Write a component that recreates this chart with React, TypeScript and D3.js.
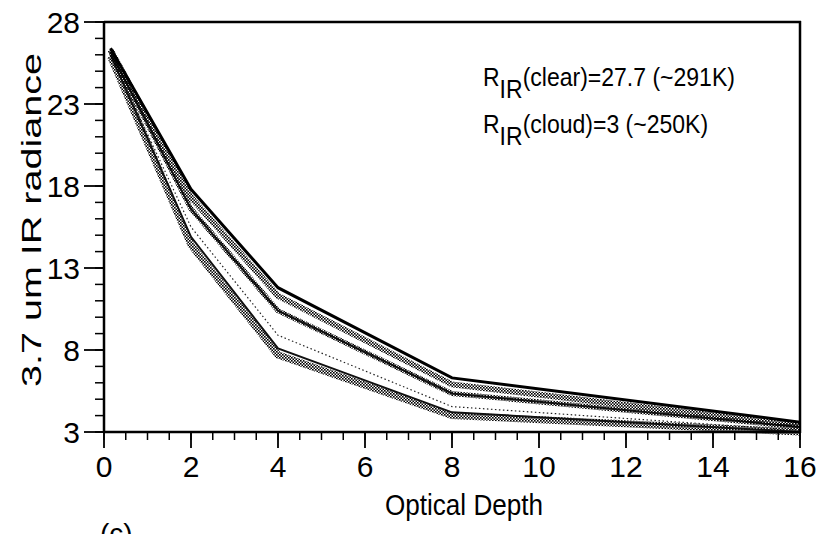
import React from "react";
import * as d3 from "d3";

const depths = [0.15, 2, 4, 8, 16];
const seriesA = [26.4, 17.8, 11.8, 6.3, 3.6];
const seriesB = [26.3, 17.3, 11.3, 5.9, 3.4];
const seriesC = [26.2, 16.6, 10.4, 5.35, 3.3];
const seriesD = [26.0, 15.5, 8.9, 4.55, 3.1];
const seriesE = [26.0, 14.9, 8.1, 4.2, 3.0];
const seriesF = [25.9, 14.4, 7.7, 4.0, 3.0];
const yMajorTicks = [3, 8, 13, 18, 23, 28];
const xMajorTicks = [0, 2, 4, 6, 8, 10, 12, 14, 16];

const W = 823;
const H = 534;
const FONT = "'Liberation Sans', Arial, sans-serif";

export default function App() {
  const x = d3.scaleLinear().domain([0, 16]).range([104, 800]);
  const y = d3.scaleLinear().domain([3, 28]).range([432, 22]);
  const line = d3
    .line<number>()
    .x((_, i) => x(depths[i]))
    .y((d) => y(d));

  const yMinor = d3.range(3, 28.001, 1);
  const xMinor = d3.range(0, 16.001, 0.5);

  return (
    <svg
      width={W}
      height={H}
      style={{ position: "absolute", left: 0, top: 0, background: "#fff" }}
      fontFamily={FONT}
    >
      <defs>
        <pattern id="hatch" patternUnits="userSpaceOnUse" width="3" height="3">
          <rect x="0" y="0" width="1.6" height="1.6" fill="#000" />
          <rect x="1.5" y="1.5" width="1.5" height="1.5" fill="#000" />
        </pattern>
      </defs>
      <rect x={0} y={0} width={W} height={H} fill="#fff" />

      {/* series */}
      <path d={line(seriesF) || ""} fill="none" stroke="url(#hatch)" strokeWidth={7} />
      <path d={line(seriesE) || ""} fill="none" stroke="#111" strokeWidth={2} />
      <path d={line(seriesD) || ""} fill="none" stroke="#222" strokeWidth={1.2} strokeDasharray="1.5,2.5" />
      <path d={line(seriesC) || ""} fill="none" stroke="url(#hatch)" strokeWidth={5} />
      <path d={line(seriesC) || ""} fill="none" stroke="#111" strokeWidth={2} />
      <path d={line(seriesB) || ""} fill="none" stroke="url(#hatch)" strokeWidth={6} />
      <path d={line(seriesA) || ""} fill="none" stroke="#000" strokeWidth={3} />

      {/* frame */}
      <line x1={104} x2={801} y1={22} y2={22} stroke="#000" strokeWidth={2.5} />
      <line x1={800} x2={800} y1={21} y2={433} stroke="#000" strokeWidth={2.5} />
      <line x1={104} x2={104} y1={21} y2={433} stroke="#000" strokeWidth={2.5} />
      <line x1={104} x2={801} y1={432} y2={432} stroke="#000" strokeWidth={2.5} />

      {/* y ticks */}
      {yMinor.map((v) => (
        <line key={"ym" + v} x1={95} x2={105} y1={y(v)} y2={y(v)} stroke="#000" strokeWidth={1.5} />
      ))}
      {yMajorTicks.map((v) => (
        <g key={"yM" + v}>
          <line x1={84} x2={105} y1={y(v)} y2={y(v)} stroke="#000" strokeWidth={1.8} />
          <text x={80} y={y(v) + 10.5} fontSize={30} textAnchor="end" fill="#000">
            {v}
          </text>
        </g>
      ))}

      {/* x ticks */}
      {xMinor.map((v) => (
        <line key={"xm" + v} x1={x(v)} x2={x(v)} y1={431} y2={440} stroke="#000" strokeWidth={1.5} />
      ))}
      {xMajorTicks.map((v) => (
        <g key={"xM" + v}>
          <line x1={x(v)} x2={x(v)} y1={431} y2={448} stroke="#000" strokeWidth={1.8} />
          <text x={x(v)} y={477} fontSize={30} textAnchor="middle" fill="#000">
            {v}
          </text>
        </g>
      ))}

      {/* axis titles */}
      <g transform="translate(464,515) scale(0.9,1)">
        <text x={0} y={0} fontSize={29} textAnchor="middle" fill="#000">
          Optical Depth
        </text>
      </g>
      <text
        transform="translate(41,220) rotate(-90)"
        fontSize={28}
        textAnchor="middle"
        textLength={334}
        lengthAdjust="spacingAndGlyphs"
        fill="#000"
      >
        3.7 um IR radiance
      </text>
      <text x={100} y={543} fontSize={28} fill="#000">
        (c)
      </text>

      {/* annotations */}
      <g transform="translate(483,0) scale(0.885,1)">
        <text x={0} y={86} fontSize={26} fill="#000">
          R<tspan dy={12}>IR</tspan>
          <tspan dy={-12}>(clear)=27.7 (~291K)</tspan>
        </text>
        <text x={0} y={133} fontSize={26} fill="#000">
          R<tspan dy={12}>IR</tspan>
          <tspan dy={-12}>(cloud)=3 (~250K)</tspan>
        </text>
      </g>
    </svg>
  );
}
